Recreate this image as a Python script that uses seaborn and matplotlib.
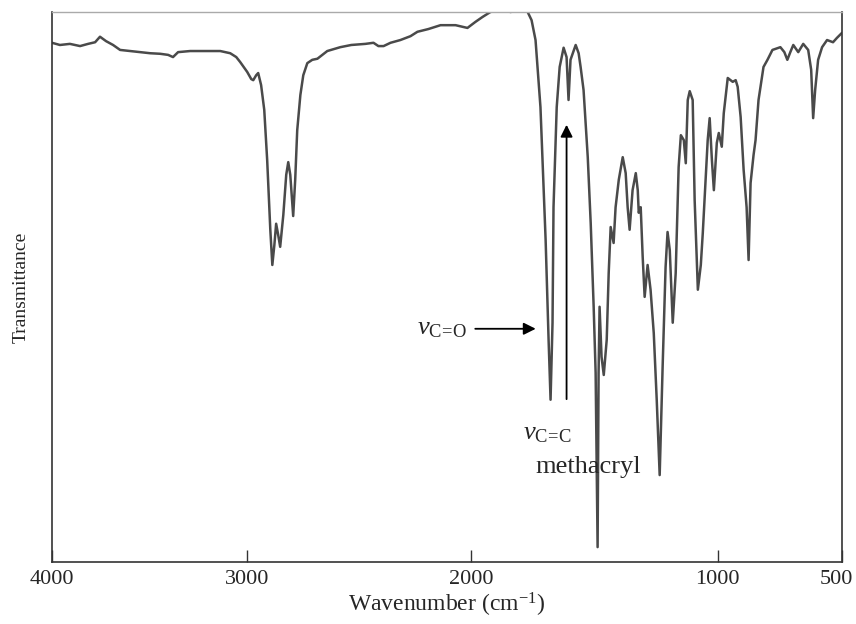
import numpy as np
import pandas as pd
import matplotlib.pyplot as plt
import matplotlib.transforms as mtransforms
import seaborn as sns

# FTIR spectrum (wavenumber in cm-1, transmittance in arbitrary %)
wavenumber = [
    4000, 3959, 3908, 3856, 3815, 3779, 3754, 3723, 3687, 3651, 3600, 3549, 3497, 3446,
    3405, 3380, 3354, 3292, 3205, 3138, 3087, 3056, 3036, 3000,
    2982, 2973, 2960, 2951, 2938, 2924, 2911, 2897, 2888, 2879, 2871, 2862, 2853, 2839,
    2826, 2817, 2808, 2795, 2786, 2777, 2763, 2750, 2732, 2710, 2687, 2665, 2643, 2585,
    2536, 2473, 2437, 2415, 2392, 2361, 2317, 2272, 2241, 2192, 2138, 2071, 2018,
    1984, 1955, 1923, 1882, 1841, 1801, 1772, 1756, 1740, 1720, 1699, 1687, 1679, 1671,
    1667, 1654, 1642, 1626, 1614, 1606, 1598, 1577, 1565, 1557, 1545, 1528, 1516, 1504,
    1496, 1492, 1488, 1484, 1480, 1472, 1463, 1451, 1443, 1435, 1423, 1415, 1402, 1386,
    1374, 1366, 1358, 1346, 1333, 1325, 1321, 1313, 1305, 1297, 1285, 1273, 1260, 1248,
    1236, 1224, 1212, 1204, 1195, 1183, 1171, 1159, 1150, 1138, 1130, 1122, 1114, 1102,
    1094, 1081, 1069, 1061, 1041, 1033, 1024, 1016, 1004,
    996, 984, 976, 960, 940, 928, 920, 908, 896, 884, 876, 868, 856, 848, 836, 816, 800,
    780, 748, 732, 720, 708, 696, 676, 656, 636, 624, 616, 608, 596, 580, 560, 536, 520, 500,
]
transmittance = [
    94.4, 94.0, 94.2, 93.8, 94.2, 94.5, 95.5, 94.7, 94.0, 93.1, 92.9, 92.7, 92.5, 92.4,
    92.2, 91.8, 92.7, 92.9, 92.9, 92.9, 92.5, 91.8, 90.9, 89.1,
    87.8, 87.6, 88.5, 88.9, 86.7, 82.2, 73.1, 60.4, 54.0, 57.6, 61.5, 59.5, 57.3, 63.1,
    70.4, 72.7, 70.4, 62.9, 69.5, 78.5, 84.9, 88.5, 90.7, 91.3, 91.5, 92.2, 92.9, 93.6,
    94.0, 94.2, 94.4, 93.8, 93.8, 94.4, 94.9, 95.6, 96.4, 96.9, 97.6, 97.6, 97.1,
    98.2, 99.1, 100.0, 100.4, 100.0, 100.4, 100.0, 98.5, 94.9, 82.7, 58.5, 40.4, 29.5, 43.5,
    64.5, 82.7, 90.0, 93.5, 91.8, 84.0, 91.3, 94.0, 92.5, 90.0, 85.8, 73.6, 61.6, 46.4,
    34.4, 18.5, 2.7, 34.4, 46.4, 37.3, 34.0, 40.4, 52.5, 60.9, 58.0, 64.5, 69.5, 73.6,
    70.7, 64.5, 60.4, 67.6, 70.7, 67.6, 63.5, 64.5, 55.5, 48.2, 54.0, 49.5, 41.6, 29.5,
    15.8, 35.5, 53.6, 60.0, 56.7, 43.5, 52.5, 71.8, 77.6, 76.7, 72.5, 84.0, 85.6, 84.0,
    65.8, 49.5, 54.0, 59.8, 76.7, 80.7, 73.1, 67.6, 76.2,
    78.0, 75.5, 81.6, 88.0, 87.3, 87.6, 86.4, 80.9, 71.3, 64.5, 54.9, 68.9, 74.0, 76.7, 84.0, 90.0, 91.3,
    93.1, 93.6, 92.7, 91.3, 92.7, 94.0, 92.7, 94.2, 93.1, 89.5, 80.7, 85.8, 91.3, 93.6, 94.9, 94.5, 95.3, 96.2,
]
tick_values = [4000, 3000, 2000, 1000, 500]

df = pd.DataFrame({"wavenumber": wavenumber, "transmittance": transmittance})

# the printed axis is not linear in wavenumber; calibrate it from the tick marks
scale_w = np.array([-1000, 500, 1000, 2000, 3000, 4000, 5000])
scale_p = np.array([-248, 0, 124, 370, 594, 789, 984])


def fwd(w):
    return np.interp(w, scale_w, scale_p)


def inv(p):
    return np.interp(p, scale_p, scale_w)


sns.set_style("white")
plt.rcParams["font.family"] = ["Liberation Serif", "DejaVu Serif"]
plt.rcParams["mathtext.fontset"] = "custom"
plt.rcParams["mathtext.rm"] = "Liberation Serif"
plt.rcParams["mathtext.it"] = "Liberation Serif:italic"

fig = plt.figure(figsize=(8.56, 6.24), dpi=100)
ax = fig.add_axes([0.0607, 0.0994, 0.9229, 0.8814])

sns.lineplot(data=df, x="wavenumber", y="transmittance", estimator=None, sort=False,
             color="#4a4a4a", lw=1.8, ax=ax)

ax.set_xscale("function", functions=(fwd, inv))
ax.set_xlim(4000, 500)
ax.set_ylim(0, 100)
ax.set_xticks(tick_values)
ax.set_xticklabels([str(t) for t in tick_values])
ax.set_yticks([])
ax.minorticks_off()

ax.tick_params(axis="x", direction="in", length=9, width=1, color="#333333",
               labelsize=16, pad=6, bottom=True)
ax.set_xlabel("Wavenumber (cm$^{-1}$)", fontsize=17, labelpad=1)
ax.set_ylabel("Transmittance", fontsize=14, labelpad=16)

# nudge the end labels so they stay inside the canvas
last = ax.get_xticklabels()[-1]
last.set_transform(last.get_transform() + mtransforms.ScaledTranslation(-4 / 72, 0, fig.dpi_scale_trans))

for side in ["left", "bottom", "right"]:
    ax.spines[side].set_color("#333333")
    ax.spines[side].set_linewidth(1.2)
ax.spines["top"].set_color("#aaaaaa")
ax.spines["top"].set_linewidth(1.0)

# band assignments
ax.annotate("", xy=(1728, 42.4), xytext=(1996, 42.4),
            arrowprops=dict(arrowstyle="-|>", color="black", lw=1.3, mutation_scale=18))
ax.annotate("", xy=(1614, 80.0), xytext=(1614, 29.1),
            arrowprops=dict(arrowstyle="-|>", color="black", lw=1.3, mutation_scale=18))
ax.text(2241, 41.3, r"$\mathit{v}_{\mathrm{C\!=\!O}}$", fontsize=19, ha="left", va="baseline")
ax.text(1789, 22.2, r"$\mathit{v}_{\mathrm{C\!=\!C}}$", fontsize=19, ha="left", va="baseline")
ax.text(1740, 16.2, "methacryl", fontsize=19, ha="left", va="baseline")

fig.savefig("out.png", dpi=100)
plt.close(fig)
